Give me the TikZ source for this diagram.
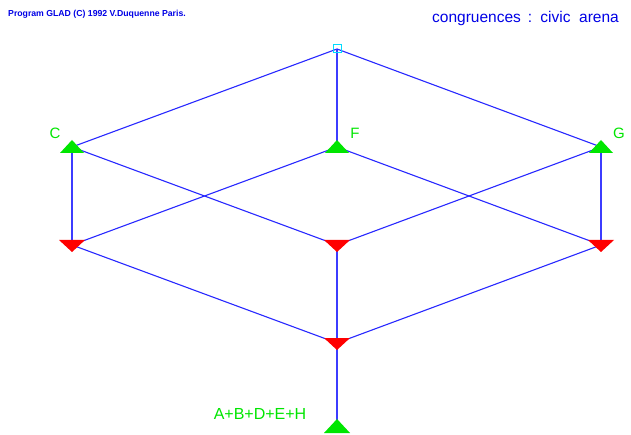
\documentclass[tikz,border=0pt]{standalone}
\usepackage{fontspec}
\setmainfont{Liberation Sans}
\usetikzlibrary{calc}
\begin{document}
\begin{tikzpicture}[x=1pt,y=-1pt,
  edge/.style={draw={rgb,255:red,40;green,40;blue,255},line width=1.1pt},
  vedge/.style={draw={rgb,255:red,60;green,60;blue,255},line width=1.5pt},
  gtri/.style={fill={rgb,255:red,0;green,230;blue,0}},
  rtri/.style={fill={rgb,255:red,255;green,0;blue,0}},
  glabel/.style={text={rgb,255:red,0;green,230;blue,0},inner sep=0pt,font=\fontsize{15}{15}\selectfont},
  btext/.style={text={rgb,255:red,0;green,0;blue,230},inner sep=0pt}]
\useasboundingbox[fill=white] (0,0) rectangle (631,435);
% node positions
\coordinate (top) at (337,49);
\coordinate (C) at (72,147);
\coordinate (F) at (337,147);
\coordinate (G) at (601,147);
\coordinate (RL) at (72,245);
\coordinate (RM) at (337,245);
\coordinate (RR) at (601,245);
\coordinate (RB) at (337,343);
\coordinate (GB) at (337,427);
% edges
\draw[edge] (top) -- (C);
\draw[vedge] (top) -- (F);
\draw[edge] (top) -- (G);
\draw[vedge] (C) -- (RL);
\draw[edge] (C) -- (RM);
\draw[edge] (F) -- (RL);
\draw[edge] (F) -- (RR);
\draw[edge] (G) -- (RM);
\draw[vedge] (G) -- (RR);
\draw[edge] (RL) -- (RB);
\draw[vedge] (RM) -- (RB);
\draw[edge] (RR) -- (RB);
\draw[vedge] (RB) -- (GB);
% top square
\draw[draw={rgb,255:red,0;green,220;blue,255},line width=1pt] ($(top)+(-4,-4)$) rectangle ($(top)+(4,4)$);
% triangles
\foreach \n in {C,F,G}{
  \fill[gtri] ($(\n)+(0,-7)$) -- ($(\n)+(12,6)$) -- ($(\n)+(-12,6)$) -- cycle;
}
\fill[gtri] ($(GB)+(0,-8)$) -- ($(GB)+(13,6)$) -- ($(GB)+(-13,6)$) -- cycle;
\foreach \n in {RL,RM,RR,RB}{
  \fill[rtri] ($(\n)+(-13,-5)$) -- ($(\n)+(13,-5)$) -- ($(\n)+(0,7)$) -- cycle;
}
% labels
\node[glabel] (lC) at (55,133) {C};
\node[glabel] (lF) at (355,133) {F};
\node[glabel] (lG) at (619,133) {G};
\node[glabel,font=\fontsize{16}{16}\selectfont] (lB) at (260,414) {A+B+D+E+H};
\node[btext,font=\bfseries\fontsize{8.7}{8.7}\selectfont,anchor=west] (credit) at (8,14) {Program GLAD (C) 1992 V.Duquenne Paris.};
\node[btext,font=\fontsize{15.5}{15.5}\selectfont,anchor=west] (title) at (432,18) {congruences \,:\, civic \ arena};
\end{tikzpicture}
\end{document}
